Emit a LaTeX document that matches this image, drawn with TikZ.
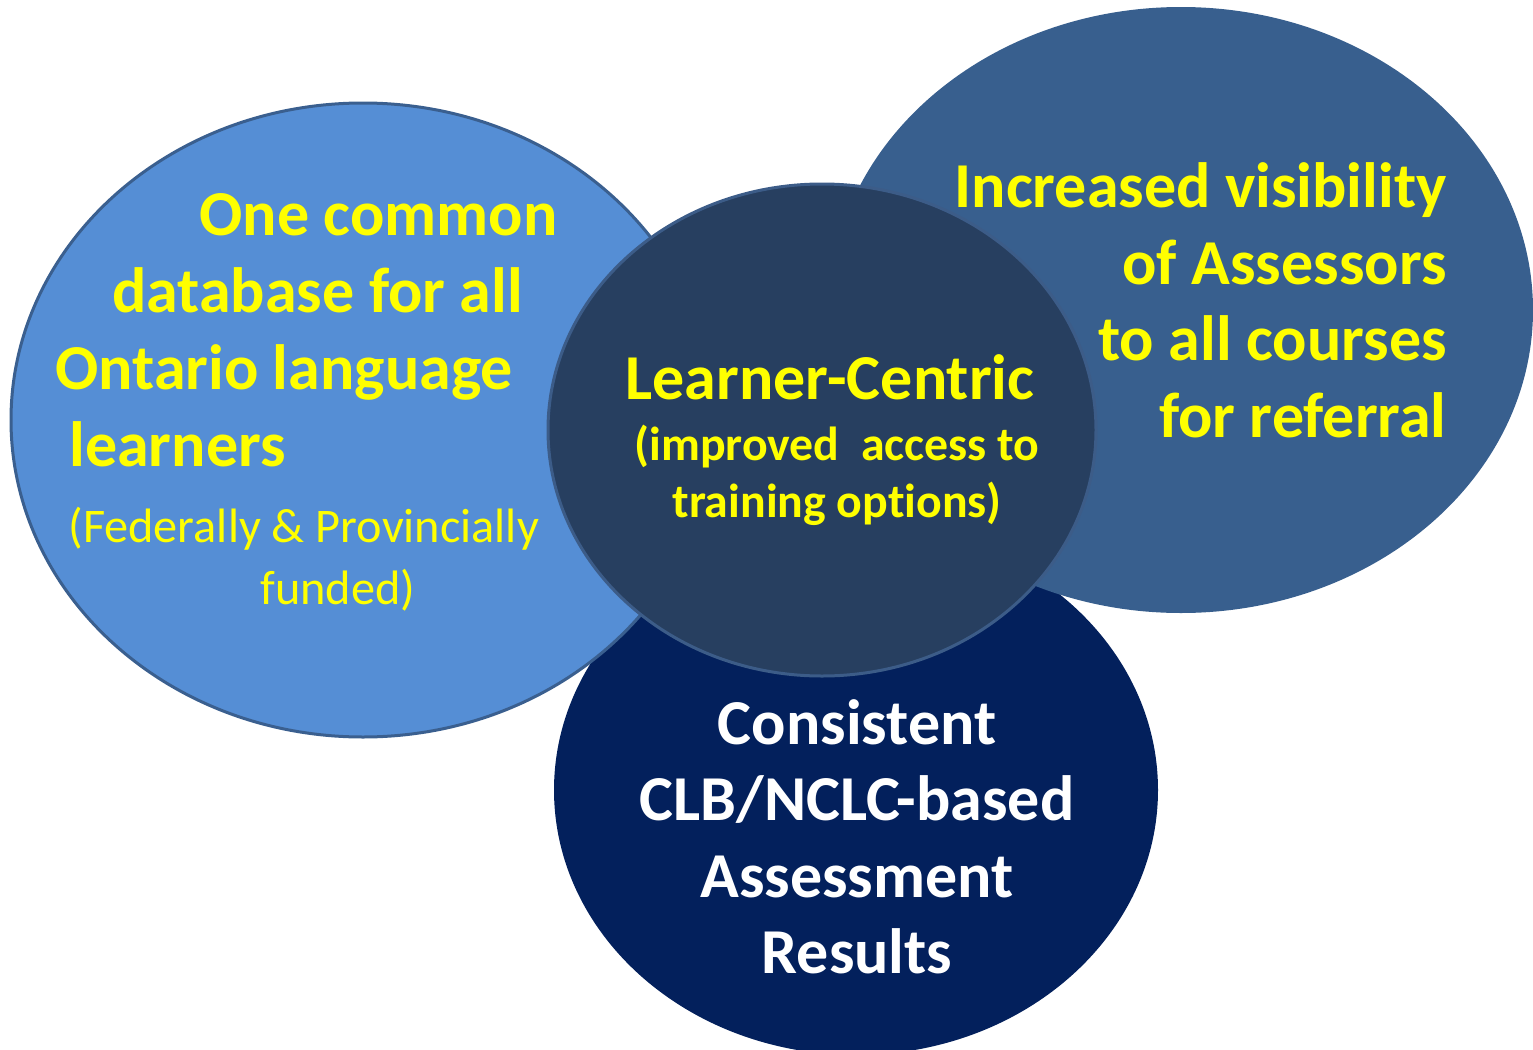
\documentclass[tikz,border=0pt]{standalone}
\usepackage{fontspec}
\setmainfont{Carlito}[Ligatures=NoCommon]
\usetikzlibrary{shapes.geometric}
\definecolor{lightblue}{HTML}{558ED5}
\definecolor{lightborder}{HTML}{3A5F8F}
\definecolor{midblue}{HTML}{385F8E}
\definecolor{centerfill}{HTML}{273F60}
\definecolor{centerborder}{HTML}{3C5C88}
\definecolor{navy}{HTML}{03205C}
\definecolor{txtyellow}{HTML}{FFFF00}
\tikzset{
  blob/.style={ellipse, inner sep=0pt, outer sep=0pt},
  bigtxt/.style={inner sep=0pt, text=txtyellow, font=\fontsize{32}{38}\selectfont\bfseries},
  midtxt/.style={inner sep=0pt, text=txtyellow, font=\fontsize{23.9}{28}\selectfont\bfseries},
  regtxt/.style={inner sep=0pt, text=txtyellow, font=\fontsize{24.15}{29}\selectfont},
  whitetxt/.style={inner sep=0pt, text=white, font=\fontsize{32}{38}\selectfont\bfseries},
}
\begin{document}
\begin{tikzpicture}[x=0.5pt, y=-0.5pt]
\useasboundingbox (0,0) rectangle (1533,1050);
% ellipses
\node[blob, fill=navy, minimum width=302pt, minimum height=265pt] (bottom) at (856,790) {};
\node[blob, fill=lightblue, draw=lightborder, line width=1.5pt, minimum width=352pt, minimum height=317pt] (left) at (363,420) {};
\node[blob, fill=midblue, minimum width=352pt, minimum height=303pt] (right) at (1181,310) {};
\node[blob, fill=centerfill, draw=centerborder, line width=1.5pt, minimum width=274pt, minimum height=246pt] (center) at (822,430) {};
% left texts
\node[bigtxt, anchor=base west] (l1) at (199,235) {One common};
\node[bigtxt, anchor=base west] (l2) at (112,312) {database for all};
\node[bigtxt, anchor=base west] (l3) at (55,389) {Ontario language};
\node[bigtxt, anchor=base west] (l4) at (69,466) {learners};
\node[regtxt, anchor=base west] (l5) at (68,542) {(Federally \& Provincially};
\node[regtxt, anchor=base west] (l6) at (260,604) {funded)};
% right texts
\node[bigtxt, anchor=base east] (r1) at (1447,207) {Increased visibility};
\node[bigtxt, anchor=base east] (r2) at (1447,284) {of Assessors};
\node[bigtxt, anchor=base east] (r3) at (1447,360) {to all courses};
\node[bigtxt, anchor=base east] (r4) at (1447,437) {for referral};
% center texts
\node[bigtxt, anchor=base] (c1) at (830,399) {Learner-Centric};
\node[midtxt, anchor=base] (c2) at (837,460) {(improved\ \ access to};
\node[midtxt, anchor=base] (c3) at (837,517) {training options)};
% bottom texts
\node[whitetxt, anchor=base] (b1) at (857,744) {Consistent};
\node[whitetxt, anchor=base] (b2) at (857,820) {CLB/NCLC-based};
\node[whitetxt, anchor=base] (b3) at (857,897) {Assessment};
\node[whitetxt, anchor=base] (b4) at (857,973) {Results};
\end{tikzpicture}
\end{document}
